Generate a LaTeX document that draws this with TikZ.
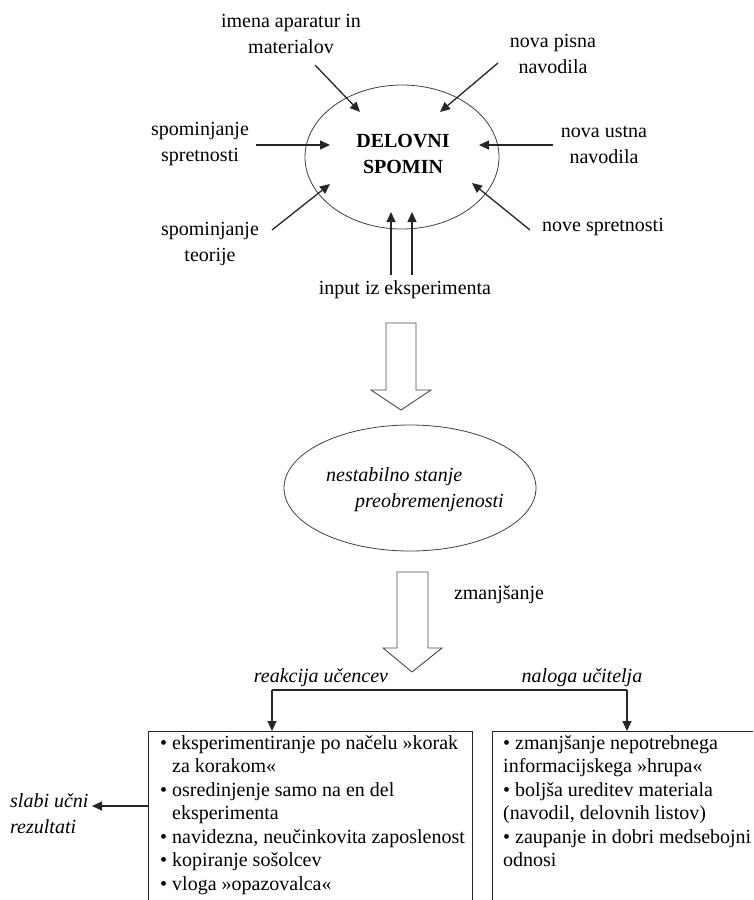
\documentclass[tikz,border=0pt]{standalone}
\usepackage{fontspec}
\setmainfont{Liberation Serif}
\usetikzlibrary{shapes.geometric,arrows.meta}
\begin{document}
\begin{tikzpicture}[x=1pt,y=-1pt,
  lbl/.style={align=center,inner sep=0pt,font=\fontsize{20}{26}\selectfont},
  ilbl/.style={inner sep=0pt,font=\fontsize{20}{26}\selectfont\itshape},
  boxtxt/.style={align=left,inner sep=0pt,anchor=north west,font=\fontsize{20}{23.5}\selectfont},
  arr/.style={draw=black!85,line width=1.3pt,-{Triangle[length=10pt,width=9pt]}},
  thinell/.style={draw=black!75,line width=0.8pt,ellipse,inner sep=0pt},
  hollow/.style={draw=black!70,line width=0.9pt,fill=white},
  boxst/.style={draw=black!85,line width=1.2pt,inner sep=0pt}]
\useasboundingbox (0,0) rectangle (753,900);
\clip (0,0) rectangle (753,900);

% working memory
\node[thinell,minimum width=194pt,minimum height=144pt] (wm) at (402,157) {};
\node[lbl,font=\fontsize{20}{26}\selectfont\bfseries] (wmt) at (403,154) {DELOVNI\\SPOMIN};

\node[lbl] (l1) at (291,34) {imena aparatur in\\materialov};
\node[lbl] (l2) at (553,53.5) {nova pisna\\navodila};
\node[lbl] (l3) at (200,144.5) {spominjanje\\spretnosti};
\node[lbl] (l4) at (604,144.5) {nova ustna\\navodila};
\node[lbl] (l5) at (210,244.5) {spominjanje\\teorije};
\node[lbl] (l6) at (603,227) {nove spretnosti};
\node[lbl] (l7) at (405,290) {input iz eksperimenta};

\coordinate (a1s) at (315,65);  \coordinate (a1e) at (360,112);
\coordinate (a2s) at (498,63);  \coordinate (a2e) at (440,112);
\coordinate (a3s) at (256,145); \coordinate (a3e) at (330,145);
\coordinate (a4s) at (553,145); \coordinate (a4e) at (479,145);
\coordinate (a5s) at (272,230); \coordinate (a5e) at (330,184);
\coordinate (a6s) at (530,230); \coordinate (a6e) at (472,183);
\coordinate (a7s) at (391,275); \coordinate (a7e) at (391,212);
\coordinate (a8s) at (412,275); \coordinate (a8e) at (412,212);
\foreach \i in {1,...,8}{\draw[arr] (a\i s) -- (a\i e);}

% hollow arrow 1
\draw[hollow] (386,323) -- (416,323) -- (416,390) -- (431,390) -- (401,410) -- (371,390) -- (386,390) -- cycle;

% unstable state
\node[thinell,minimum width=252pt,minimum height=126pt] (us) at (410,488) {};
\node[ilbl,align=left,anchor=west] (ust) at (326,490) {nestabilno stanje\\\hspace*{29pt}preobremenjenosti};

% hollow arrow 2
\draw[hollow] (397,572) -- (428,572) -- (428,648) -- (442,648) -- (412,672) -- (383,648) -- (397,648) -- cycle;
\node[lbl] (zm) at (499,595) {zmanjšanje};

\node[ilbl] (rk) at (321,678) {reakcija učencev};
\node[ilbl] (nu) at (582,678) {naloga učitelja};

% boxes
\node[boxst,minimum width=324pt,minimum height=300pt,anchor=north west] (lbox) at (148,731) {};
\node[boxst,minimum width=320pt,minimum height=300pt,anchor=north west] (rbox) at (492,731) {};

\coordinate (sl) at (272,690);
\coordinate (sr) at (627,690);
\draw[draw=black!85,line width=1.3pt] (sl) -- (sr);
\draw[arr] (sl) -- (sl |- lbox.north);
\draw[arr] (sr) -- (sr |- rbox.north);

\node[boxtxt] (lt) at (160,735) {\textbullet\ eksperimentiranje po načelu »korak\\
\hphantom{\textbullet\ }za korakom«\\
\textbullet\ osredinjenje samo na en del\\
\hphantom{\textbullet\ }eksperimenta\\
\textbullet\ navidezna, neučinkovita zaposlenost\\
\textbullet\ kopiranje sošolcev\\
\textbullet\ vloga »opazovalca«};

\node[boxtxt] (rt) at (503,735) {\textbullet\ zmanjšanje nepotrebnega\\
informacijskega »hrupa«\\
\textbullet\ boljša ureditev materiala\\
(navodil, delovnih listov)\\
\textbullet\ zaupanje in dobri medsebojni\\
odnosi};

\node[ilbl,align=left,anchor=north west,font=\fontsize{20}{26}\selectfont\itshape] (sb) at (10,793) {slabi učni\\rezultati};
\coordinate (sbe) at (92,806);
\draw[arr] (lbox.west |- sbe) -- (sbe);
\end{tikzpicture}
\end{document}
